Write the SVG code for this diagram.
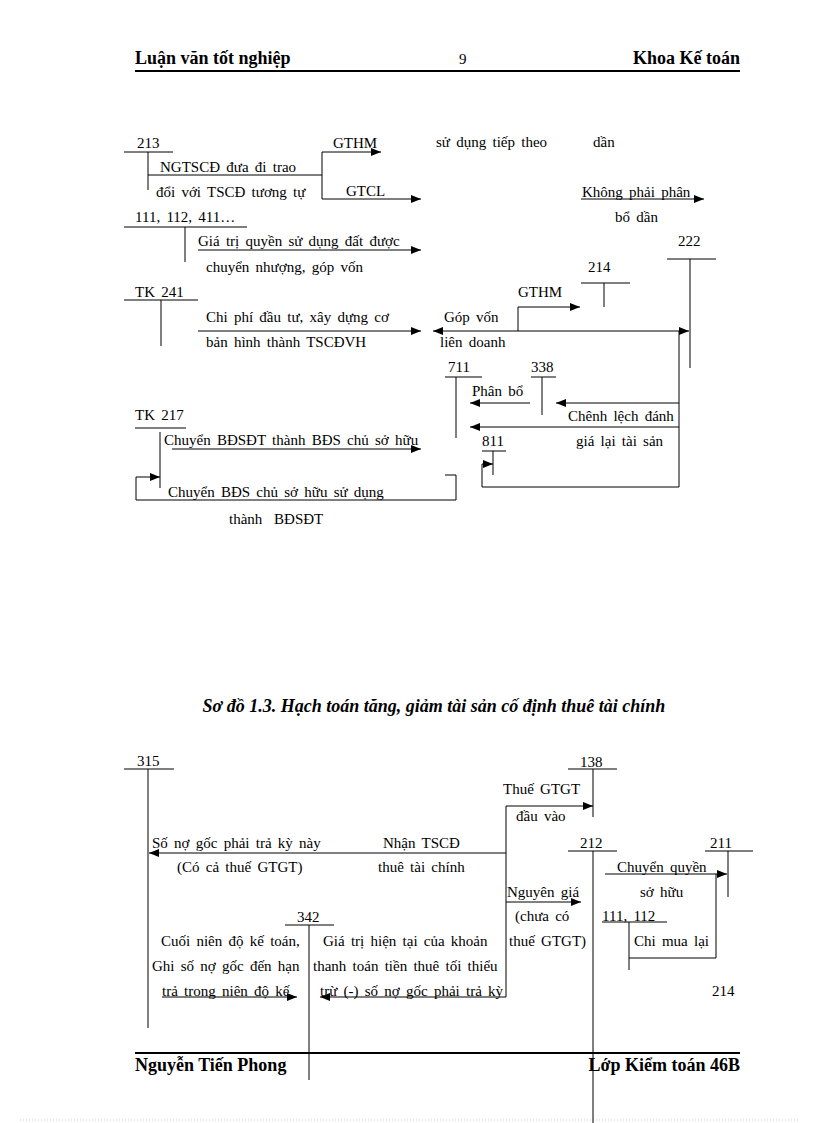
<svg xmlns="http://www.w3.org/2000/svg" width="816" height="1123" viewBox="0 0 816 1123">
<style>
text{font-family:"Liberation Serif","Times New Roman",serif;font-size:15px;word-spacing:2.5px;fill:#000}
.h{font-size:18px;font-weight:bold;word-spacing:0}
.cap{font-size:18px;font-weight:bold;font-style:italic;word-spacing:0}
.l{stroke:#000;stroke-width:1;fill:none}
.ar{stroke:#000;stroke-width:1;fill:none;marker-end:url(#a)}
.rule{stroke:#000;stroke-width:2}
</style>
<defs>
<marker id="a" viewBox="0 0 10 8" refX="10" refY="4" markerWidth="10" markerHeight="8" markerUnits="userSpaceOnUse" orient="auto"><path d="M0,0 L10,4 L0,8 z" fill="#000"/></marker>
</defs>
<rect width="816" height="1123" fill="#fff"/>
<g id="header">
<text class="h" x="135" y="64">Luận văn tốt nghiệp</text>
<text x="459" y="64">9</text>
<text class="h" x="740" y="64" text-anchor="end">Khoa Kế toán</text>
<line class="rule" x1="135" y1="71" x2="740" y2="71"/>
</g>
<g id="footer">
<line class="rule" x1="135" y1="1053" x2="740" y2="1053"/>
<text class="h" x="135" y="1071">Nguyễn Tiến Phong</text>
<text class="h" x="740" y="1071" text-anchor="end">Lớp Kiểm toán 46B</text>
<line x1="20" y1="1120" x2="800" y2="1120" stroke="#ccc" stroke-dasharray="1,2"/>
</g>
<!-- top diagram -->
<g id="acc213"><text x="137" y="148">213</text><line class="l" x1="124" y1="152" x2="173" y2="152"/><line class="l" x1="148" y1="152" x2="148" y2="190"/></g>
<g id="acc111"><text x="135" y="222">111, 112, 411…</text><line class="l" x1="124" y1="227" x2="247" y2="227"/><line class="l" x1="185" y1="227" x2="185" y2="262"/></g>
<g id="acc222"><text x="678" y="246">222</text><line class="l" x1="667" y1="259" x2="716" y2="259"/><line class="l" x1="690" y1="259" x2="690" y2="368"/></g>
<g id="acc214a"><text x="588" y="272">214</text><line class="l" x1="581" y1="283" x2="630" y2="283"/><line class="l" x1="604" y1="283" x2="604" y2="307"/></g>
<g id="acc241"><text x="135" y="297">TK 241</text><line class="l" x1="124" y1="300" x2="198" y2="300"/><line class="l" x1="161" y1="300" x2="161" y2="346"/></g>
<g id="acc711"><text x="448" y="372">711</text><line class="l" x1="445" y1="377" x2="482" y2="377"/><line class="l" x1="456" y1="377" x2="456" y2="438"/></g>
<g id="acc338"><text x="531" y="372">338</text><line class="l" x1="531" y1="377" x2="556" y2="377"/><line class="l" x1="542" y1="377" x2="542" y2="415"/></g>
<g id="acc811"><text x="482" y="446">811</text><line class="l" x1="482" y1="451" x2="506" y2="451"/><line class="l" x1="493" y1="451" x2="493" y2="475"/></g>
<g id="acc217"><text x="135" y="420">TK 217</text><line class="l" x1="135" y1="428" x2="186" y2="428"/><line class="l" x1="160" y1="432" x2="160" y2="488"/></g>
<g id="labels-top">
<text x="160" y="172">NGTSCĐ đưa đi trao</text>
<text x="156" y="197">đổi với TSCĐ tương tự</text>
<text x="333" y="148">GTHM</text>
<text x="346" y="196">GTCL</text>
<text x="436" y="147">sử dụng tiếp theo</text>
<text x="593" y="147">dần</text>
<text x="582" y="197">Không phải phân</text>
<text x="615" y="222">bổ dần</text>
<text x="198" y="246">Giá trị quyền sử dụng đất được</text>
<text x="206" y="272">chuyển nhượng, góp vốn</text>
<text x="518" y="297">GTHM</text>
<text x="206" y="322">Chi phí đầu tư, xây dựng cơ</text>
<text x="206" y="347">bản hình thành TSCĐVH</text>
<text x="444" y="322">Góp vốn</text>
<text x="440" y="347">liên doanh</text>
<text x="472" y="396">Phân bổ</text>
<text x="568" y="421">Chênh lệch đánh</text>
<text x="576" y="446">giá lại tài sản</text>
<text x="164" y="445">Chuyển BĐSĐT thành BĐS chủ sở hữu</text>
<text x="168" y="497">Chuyển BĐS chủ sở hữu sử dụng</text>
<text x="229" y="524" style="word-spacing:8px">thành BĐSĐT</text>
</g>
<g id="connectors-top">
<line class="l" x1="148" y1="175" x2="322" y2="175"/>
<polyline class="ar" points="322,199 322,152 381,152"/>
<line class="ar" x1="322" y1="199" x2="421" y2="199"/>
<line class="ar" x1="581" y1="199" x2="704" y2="199"/>
<line class="ar" x1="198" y1="250" x2="421" y2="250"/>
<line class="ar" x1="198" y1="331" x2="421" y2="331"/>
<line class="ar" x1="518" y1="331" x2="433" y2="331"/>
<line class="ar" x1="518" y1="331" x2="689" y2="331"/>
<polyline class="ar" points="518,331 518,307 580,307"/>
<polyline class="l" points="679,331 679,487 482,487 482,464"/>
<line class="ar" x1="482" y1="464" x2="493" y2="464"/>
<line class="ar" x1="679" y1="403" x2="556" y2="403"/>
<line class="ar" x1="530" y1="403" x2="470" y2="403"/>
<line class="ar" x1="679" y1="427" x2="470" y2="427"/>
<line class="ar" x1="172" y1="449" x2="421" y2="449"/>
<polyline class="l" points="445,475 456,475 456,500 136,500 136,477"/>
<line class="ar" x1="136" y1="477" x2="160" y2="477"/>
</g>
<text class="cap" x="434" y="712" text-anchor="middle">Sơ đồ 1.3. Hạch toán tăng, giảm tài sản cố định thuê tài chính</text>
<!-- bottom diagram -->
<g id="acc315"><text x="137" y="766">315</text><line class="l" x1="124" y1="769" x2="174" y2="769"/><line class="l" x1="148" y1="769" x2="148" y2="1028"/></g>
<g id="acc138"><text x="580" y="767">138</text><line class="l" x1="568" y1="769" x2="617" y2="769"/><line class="l" x1="593" y1="769" x2="593" y2="817"/></g>
<g id="acc212"><text x="580" y="848">212</text><line class="l" x1="568" y1="851" x2="617" y2="851"/><line class="l" x1="593" y1="851" x2="593" y2="1123"/></g>
<g id="acc211"><text x="710" y="848">211</text><line class="l" x1="705" y1="851" x2="753" y2="851"/><line class="l" x1="728" y1="851" x2="728" y2="897"/></g>
<g id="acc111b"><text x="602" y="921">111, 112</text><line class="l" x1="602" y1="922" x2="667" y2="922"/><line class="l" x1="629" y1="922" x2="629" y2="970"/></g>
<g id="acc342"><text x="297" y="922">342</text><line class="l" x1="285" y1="925" x2="334" y2="925"/><line class="l" x1="309" y1="925" x2="309" y2="1080"/></g>
<g id="acc214b"><text x="712" y="996">214</text></g>
<g id="labels-bottom">
<text x="152" y="848">Số nợ gốc phải trả kỳ này</text>
<text x="177" y="872">(Có cả thuế GTGT)</text>
<text x="383" y="848">Nhận TSCĐ</text>
<text x="378" y="872">thuê tài chính</text>
<text x="503" y="794">Thuế GTGT</text>
<text x="516" y="821">đầu vào</text>
<text x="617" y="872">Chuyển quyền</text>
<text x="640" y="897">sở hữu</text>
<text x="634" y="946">Chi mua lại</text>
<text x="507" y="897">Nguyên giá</text>
<text x="515" y="921">(chưa có</text>
<text x="509" y="946">thuế GTGT)</text>
<text x="161" y="946">Cuối niên độ kế toán,</text>
<text x="152" y="971">Ghi số nợ gốc đến hạn</text>
<text x="162" y="996">trả trong niên độ kế</text>
<text x="323" y="946">Giá trị hiện tại của khoản</text>
<text x="313" y="971">thanh toán tiền thuê tối thiểu</text>
<text x="320" y="996">trừ (-) số nợ gốc phải trả kỳ</text>
</g>
<g id="connectors-bottom">
<line class="ar" x1="506" y1="853" x2="149" y2="853"/>
<polyline class="l" points="506,806 506,997"/>
<line class="ar" x1="506" y1="806" x2="593" y2="806"/>
<line class="ar" x1="506" y1="902" x2="581" y2="902"/>
<line class="ar" x1="506" y1="997" x2="320" y2="997"/>
<line class="ar" x1="162" y1="997" x2="297" y2="997"/>
<line class="ar" x1="605" y1="874" x2="727" y2="874"/>
<polyline class="l" points="716,874 716,958 629,958"/>
</g>
</svg>
